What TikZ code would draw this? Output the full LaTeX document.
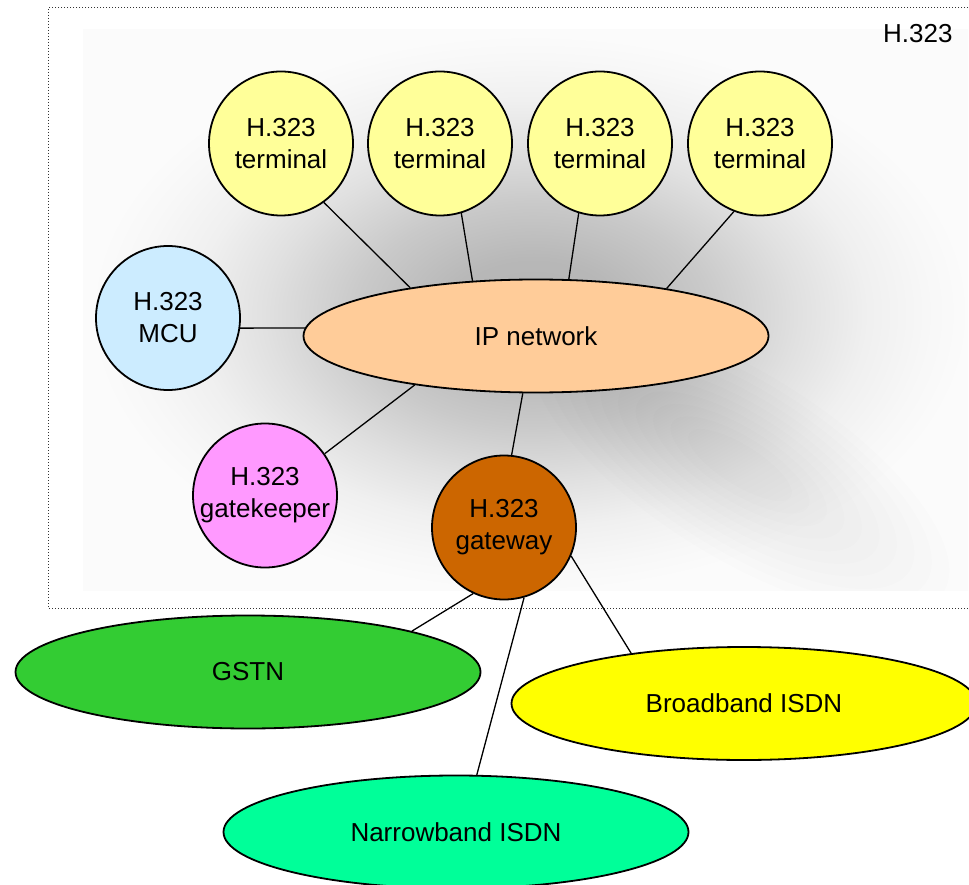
\documentclass[tikz,border=0pt]{standalone}
\usepackage{fontspec}
\setmainfont{Liberation Sans}
\usetikzlibrary{shapes.geometric}
\definecolor{termY}{HTML}{FFFF99}
\definecolor{mcuB}{HTML}{CCECFF}
\definecolor{ipO}{HTML}{FFCC99}
\definecolor{gkP}{HTML}{FF99FF}
\definecolor{gwB}{HTML}{CC6600}
\definecolor{gstnG}{HTML}{33CC33}
\definecolor{bbY}{HTML}{FFFF00}
\definecolor{nbG}{HTML}{00FF99}
\pgfdeclareradialshading{glowshade}{\pgfpoint{0.5bp}{-0.5bp}}{%
  color(0bp)=(black!30);
  color(5bp)=(black!28);
  color(10bp)=(black!21);
  color(15bp)=(black!12);
  color(19bp)=(black!6);
  color(22.5bp)=(black!3);
  color(25bp)=(black!1.5);
  color(50bp)=(black!1.5)}
\tikzset{
  unit/.style={draw=black, line width=1.8pt, inner sep=0pt, align=center,
    font=\fontsize{26}{32}\selectfont},
  roundunit/.style={unit, circle, minimum size=144pt},
  netunit/.style={unit, ellipse, minimum width=465pt, minimum height=113pt},
  link/.style={line width=1.3pt, black},
  haze/.style={black, opacity=0.008},
}
\begin{document}
\begin{tikzpicture}[x=1pt, y=-1pt]
\useasboundingbox (0,0) rectangle (969,885);
\clip (0,0) rectangle (969,885);
\fill[white] (0,0) rectangle (969,885);
% soft shadow background
\shade[shading=glowshade] (83,30) rectangle (968,590);
\begin{scope}
\clip (83,30) rectangle (968,590);
\foreach \k in {1,...,10}
  \fill[haze, rotate around={-32:(740,465)}] (740,465)
    ellipse [x radius={40+20*\k}, y radius={12+8*\k}];
\end{scope}
% dotted frame
\draw[dotted, line width=1pt, black!80] (980,8) -- (48,8) -- (48,608) -- (980,608);
\node[anchor=east, font=\fontsize{26}{32}\selectfont] (lbl) at (956,34) {H.323};
% nodes
\node[roundunit, fill=termY] (t1) at (281,143.5) {H.323\\terminal};
\node[roundunit, fill=termY] (t2) at (440,143.5) {H.323\\terminal};
\node[roundunit, fill=termY] (t3) at (600,143.5) {H.323\\terminal};
\node[roundunit, fill=termY] (t4) at (760,143.5) {H.323\\terminal};
\node[roundunit, fill=mcuB] (mcu) at (168,318) {H.323\\MCU};
\node[netunit, fill=ipO] (ip) at (536,336) {IP network};
\node[roundunit, fill=gkP] (gk) at (265,495.5) {H.323\\gatekeeper};
\node[roundunit, fill=gwB] (gw) at (504,527.5) {H.323\\gateway};
\node[netunit, fill=gstnG] (gstn) at (248,672) {GSTN};
\node[netunit, fill=bbY] (bb) at (744,703.5) {Broadband ISDN};
\node[netunit, fill=nbG] (nb) at (456,832) {Narrowband ISDN};
% connectors
\draw[link] (t1.-54) -- (ip.159);
\draw[link] (t2.-73) -- (ip.139);
\draw[link] (t3.-107) -- (ip.60);
\draw[link] (t4.-111) -- (ip.20);
\draw[link] (mcu.-8) -- (ip.178);
\draw[link] (gk.35) -- (ip.-158);
\draw[link] (gw.84) -- (ip.-103);
\draw[link] (gw.-115) -- (gstn.14);
\draw[link] (gw.-74) -- (nb.70);
\draw[link] (gw.-23.5) -- (bb.156);
\end{tikzpicture}
\end{document}
